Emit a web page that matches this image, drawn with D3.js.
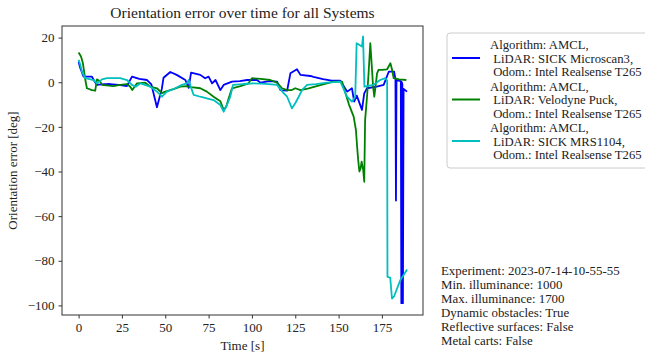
<!DOCTYPE html>
<html>
<head>
<meta charset="utf-8">
<script src="https://cdn.jsdelivr.net/npm/d3@7"></script>
<style>
  body { margin: 0; background: #fff; }
  svg { font-family: "Liberation Serif", "Times New Roman", serif; }
</style>
</head>
<body>
<div id="chart"></div>
<script>
// orientation error per system (time [s], error [deg])
var tBlue = [0,1,2.9,7.7,8.7,10.6,13,18,23,27.9,30.8,35,39.5,42,45.2,48,49,52.9,56.6,61.6,63.5,64.9,70.2,73,75,77,79,81.8,83.7,88.5,93,97.2,102.9,105,110,114.5,116.4,120.3,122.2,126,128,133.7,135.5,141,146,151,155,157.7,159,160.5,163.5,164.8,166.4,172,176,179,182,182.8,183.1,183.4,185.9,186.2,186.5,186.8,187.1,187.5,189.5]
var vBlue = [9.2,6.3,2.5,2.5,1,-1.2,-1,-0.8,-1.2,-1.7,2.5,1.5,1,-1,-11.2,-3,2,4.6,3.3,1,-2.5,4.3,3.3,1.8,2.5,-0.5,1,-3.5,-1.2,0.3,0.5,1,1,-0.2,0.5,0.3,-3.5,-3.8,4,5.8,3.3,2.8,2.4,1.4,0.7,0.7,-4.2,-2.7,-8.7,-6,-12.4,-5,-2.7,-2,-1.2,4.8,4.8,1.5,-53,1,0.5,-99,0,-1,-99,-3,-4.2]

var tGreen = [0,1.4,2.5,3.9,4.8,7.7,9.6,10.6,12.5,13.5,20,24,27.9,29.8,31,33.7,38.5,41.4,45.2,48.1,50,54.8,58.7,62.5,65,70.2,74,77.9,81.8,83.7,85.2,86.6,88.5,93.4,98,100,105,110.6,114.5,117.4,120.3,123,125,128,132.7,140,147,152,154,156,158.7,160,160.7,161.3,162,162.7,163.3,164.2,164.8,165.3,166.4,167.3,168.3,169.3,169.9,170.6,171.3,172.2,173,175,178,179.9,180.9,181.8,185,189.1]
var vGreen = [13.3,11.5,8.5,1,-2.7,-3.5,-3.8,1.3,0.3,-1.2,-1.7,-1.2,-0.8,-2,-3.5,-0.5,-0.2,-2,-2.7,-4.9,-4.2,-3.1,-2,-1.7,-2.2,-2.7,-4.2,-6.5,-8.5,-12.4,-10.9,-7.2,-2.7,-1.7,-0.5,1.8,1.5,1,-0.2,-2.7,-3.5,-3.5,-2.7,-3.5,-2.7,-1.2,0.3,0.3,-5,-10,-15.4,-21.4,-28.9,-34.8,-40,-38.6,-35.6,-39.3,-44.6,-17,-6.5,4,17.5,5.5,-2,-6.5,-2,4,5.5,5.5,5.8,8.5,5.5,1.8,1.3,1]

var tCyan = [0,1,1.9,3.9,8.7,10.6,13.5,16.4,24,27.9,30.8,33,35.6,41.4,45.2,48.1,51,55.8,59.6,62.5,63.5,64.5,66.4,70.2,74,77.9,81.8,83.7,85.6,87.5,89.1,95,101,108,114.5,118.3,120.3,123.1,125,127,128.9,131.8,137,143.3,151,154.9,157.7,159.6,160.4,163.5,164.1,164.9,170,174,177,178,178.2,179.8,180.8,182,185.6,189.5]
var vCyan = [10,7.8,4.8,1.8,1,-0.5,1.3,1.8,1.8,1,-1.2,-2,-0.5,-2,-4.2,-6.5,-4.2,-2.7,-1.2,-0.5,1,-1.5,-5.7,-6.5,-7.2,-8,-10.2,-13.2,-10.2,-6.5,-1.2,-0.8,-0.5,-0.7,-1.2,-4.9,-6.5,-11.7,-9.4,-6.5,-3.5,-1.2,-0.8,-0.2,0.3,-6.5,-8.7,-6.5,17.5,16,20.5,-2,-1.2,1,1.8,0.8,-87.2,-87.5,-96.9,-96,-88.7,-83.9]

var seriesNames = [
  ["Algorithm: AMCL,", " LiDAR: SICK Microscan3,", " Odom.: Intel Realsense T265"],
  ["Algorithm: AMCL,", " LiDAR: Velodyne Puck,", " Odom.: Intel Realsense T265"],
  ["Algorithm: AMCL,", " LiDAR: SICK MRS1104,", " Odom.: Intel Realsense T265"]
]
var colors = ["#0000ff", "#008000", "#00bfbf"]
var xTicks = [0,25,50,75,100,125,150,175]
var yTicks = [20,0,-20,-40,-60,-80,-100]
var infoLines = [
  "Experiment: 2023-07-14-10-55-55",
  "Min. illuminance: 1000",
  "Max. illuminance: 1700",
  "Dynamic obstacles: True",
  "Reflective surfaces: False",
  "Metal carts: False"
]

var W = 645, H = 356
var pLeft = 62, pRight = 423, pTop = 26, pBottom = 315

var svg = d3.select("#chart").append("svg").attr("width", W).attr("height", H)

var x = d3.scaleLinear().domain([-9.57, 198.7]).range([pLeft, pRight])
var y = d3.scaleLinear().domain([25.2, -104.3]).range([pTop, pBottom])

var series = [[tBlue, vBlue], [tGreen, vGreen], [tCyan, vCyan]].map(function(s){
  return s[0].map(function(t, i){ return [t, s[1][i]] })
})

var line = d3.line().x(function(d){ return x(d[0]) }).y(function(d){ return y(d[1]) })

svg.append("clipPath").attr("id", "plotclip")
  .append("rect").attr("x", pLeft).attr("y", pTop).attr("width", pRight-pLeft).attr("height", pBottom-pTop)

svg.append("g").attr("clip-path", "url(#plotclip)")
  .selectAll("path")
  .data(series)
  .enter()
  .append("path")
  .attr("d", line)
  .attr("fill", "none")
  .attr("stroke", function(d,i){ return colors[i] })
  .attr("stroke-width", 1.8)
  .attr("stroke-linejoin", "round")

// axes
var xAxis = svg.append("g").attr("transform", "translate(0," + pBottom + ")")
  .call(d3.axisBottom(x).tickValues(xTicks).tickSize(3.5).tickPadding(4).tickSizeOuter(0))
var yAxis = svg.append("g").attr("transform", "translate(" + pLeft + ",0)")
  .call(d3.axisLeft(y).tickValues(yTicks).tickSize(3.5).tickPadding(4).tickSizeOuter(0))

;[xAxis, yAxis].forEach(function(a){
  a.select(".domain").remove()
  a.selectAll("line").attr("stroke", "#333")
  a.selectAll("text").attr("font-size", 13).attr("fill", "#222")
    .style("font-family", "'Liberation Serif', serif")
})

svg.append("rect")
  .attr("x", pLeft).attr("y", pTop).attr("width", pRight-pLeft).attr("height", pBottom-pTop)
  .attr("fill", "none").attr("stroke", "#333").attr("stroke-width", 1)

// titles
svg.append("text").attr("x", (pLeft+pRight)/2).attr("y", 18)
  .attr("text-anchor", "middle").attr("font-size", 15.5).attr("fill", "#222")
  .text("Orientation error over time for all Systems")

svg.append("text").attr("x", (pLeft+pRight)/2).attr("y", 350)
  .attr("text-anchor", "middle").attr("font-size", 13).attr("fill", "#222")
  .text("Time [s]")

svg.append("text")
  .attr("transform", "translate(17," + ((pTop+pBottom)/2) + ") rotate(-90)")
  .attr("text-anchor", "middle").attr("font-size", 13).attr("fill", "#222")
  .text("Orientation error [deg]")

// legend
var lg = svg.append("g").attr("transform", "translate(447,33)")
lg.append("rect").attr("width", 230).attr("height", 135).attr("rx", 3)
  .attr("fill", "#fff").attr("stroke", "#ccc")

var entry = lg.selectAll(".entry").data(seriesNames).enter().append("g")
  .attr("class", "entry")
  .attr("transform", function(d,i){ return "translate(0," + (i*41.5) + ")" })

entry.append("line")
  .attr("x1", 5).attr("x2", 33).attr("y1", 25).attr("y2", 25)
  .attr("stroke", function(d,i){ return colors[i] }).attr("stroke-width", 2)

entry.selectAll("text").data(function(d){ return d }).enter().append("text")
  .attr("x", 43).attr("y", function(d,i){ return 16 + i*13.5 })
  .attr("font-size", 12.7).attr("fill", "#222")
  .attr("xml:space", "preserve").style("white-space", "pre")
  .text(function(d){ return d })

// experiment info
svg.append("g").selectAll("text").data(infoLines).enter().append("text")
  .attr("x", 441).attr("y", function(d,i){ return 275 + i*14 })
  .attr("font-size", 12.9).attr("fill", "#222")
  .text(function(d){ return d })
</script>
</body>
</html>
